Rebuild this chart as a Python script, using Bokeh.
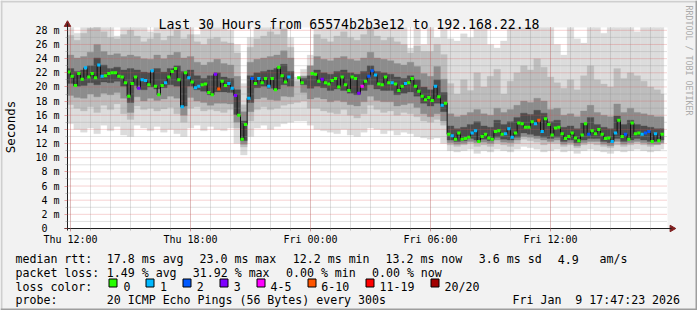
import math
from bokeh.plotting import figure
from bokeh.models import Range1d, FixedTicker, Label, ColumnDataSource
from bokeh.embed import file_html
from bokeh.resources import INLINE

nan = float("nan")

# ---------------- data ----------------
# median RTT per 10-minute step, in ms, starting Thu 11:50
median_ms = [
    22.1, 21.5, 20.2, 21.9, 21.1, 22.7, 21.4, 21.9, 21.3, 23.1,
    21.5, 21.6, 21.9, 22.0, 22.0, 21.5, 21.4, 20.6, 18.7, 20.5,
    21.4, 19.8, 21.0, 20.9, 20.3, 22.3, 20.1, 18.9, 20.2, 20.6,
    21.4, 22.2, 22.6, 21.0, 17.2, 22.0, 21.3, 20.7, 19.9, 20.1,
    20.3, 20.4, 19.2, 18.9, 21.8, 19.7, 20.8, 20.2, 20.5, 19.8,
    18.8, 16.0, 12.6, 14.7, 18.4, 21.2, 20.5, 21.2, 20.6, 21.2,
    20.1, 21.2, 19.6, 22.8, 21.6, 20.7, 21.4, nan, nan, 21.3,
    20.6, nan, nan, 21.9, 21.8, 20.8, 21.1, 20.6, 20.4, 20.9,
    21.2, 20.0, 21.4, 20.3, 19.5, 21.4, 21.2, 19.1, 20.1, 20.8,
    21.5, 22.3, 21.7, 20.4, 20.3, 21.4, 20.6, 20.6, 20.4, 19.5,
    20.1, 20.5, 20.6, 21.2, 20.1, 19.4, 18.7, 18.2, 18.5, 18.1,
    20.1, 18.6, 17.4, 17.7, 13.3, 13.1, 12.6, 13.5, 12.6, 12.7,
    12.9, 13.5, 13.8, 12.3, 13.0, 13.3, 12.8, 12.6, 13.7, 13.8,
    13.3, 13.4, 14.1, 12.9, 13.5, 14.9, 14.8, 14.3, 14.3, 15.1,
    14.8, 15.3, 13.7, 15.5, 14.7, 13.2, 14.2, 14.3, 13.4, 12.7,
    13.0, 13.5, 12.8, 12.4, 13.2, 14.8, 13.3, 13.8, 13.4, 14.0,
    13.3, 12.7, 12.8, 12.3, 13.5, 15.3, 13.0, 13.3, 12.6, 14.9,
    13.4, 13.5, 13.3, 13.5, 13.7, 12.3, 13.4, 12.4, 13.3,
]
# loss bucket per step (index into loss_labels)
loss_bucket = [
    0, 0, 0, 0, 0, 1, 0, 0, 0, 1,
    1, 0, 0, 0, 0, 0, 0, 0, 0, 0,
    0, 3, 1, 1, 0, 1, 0, 0, 0, 1,
    0, 0, 0, 0, 1, 0, 1, 0, 1, 1,
    0, 0, 0, 0, 3, 5, 0, 0, 1, 1,
    3, 0, 0, 0, 1, 2, 0, 1, 0, 0,
    1, 0, 0, 0, 0, 0, 1, 0, 0, 0,
    0, 0, 0, 0, 0, 0, 3, 0, 0, 0,
    0, 0, 0, 0, 0, 0, 0, 3, 4, 0,
    2, 2, 1, 0, 0, 0, 0, 1, 0, 0,
    0, 1, 0, 0, 0, 0, 0, 0, 0, 0,
    1, 0, 1, 0, 0, 1, 0, 0, 0, 0,
    0, 1, 1, 0, 0, 0, 0, 0, 0, 0,
    0, 1, 1, 1, 0, 0, 0, 0, 0, 0,
    1, 5, 1, 0, 0, 0, 0, 0, 0, 0,
    0, 0, 0, 0, 0, 0, 2, 0, 0, 0,
    0, 0, 0, 1, 1, 0, 0, 2, 0, 0,
    0, 0, 1, 2, 2, 0, 1, 0, 0,
]
# smoke (spread of the 20 pings) per 20-minute step, in ms, four nested bands
smoke_min = [
    14.8, 14.0, 13.6, 14.2, 13.4, 14.6, 13.8, 14.4, 13.2, 13.0,
    14.6, 14.2, 13.8, 14.4, 13.6, 14.0, 13.4, 13.0, 14.2, 14.6,
    13.8, 14.4, 14.0, 13.8, 14.2, 12.0, 10.4, 13.0, 14.2, 14.6,
    14.0, 14.4, 14.8, 15.0, 15.2, 15.2, 14.6, 14.0, 13.8, 13.6,
    13.4, 14.0, 13.2, 13.0, 13.6, 14.2, 14.0, 13.4, 13.8, 13.2,
    13.6, 13.4, 13.0, 12.8, 12.6, 12.8, 12.0, 11.0, 10.8, 11.0,
    11.2, 10.6, 11.0, 10.8, 11.2, 11.0, 10.8, 11.2, 11.6, 11.4,
    11.2, 10.8, 11.0, 11.2, 10.8, 11.0, 10.6, 11.0, 11.2, 11.0,
    10.8, 10.6, 11.0, 10.8, 11.0, 11.2, 11.0, 10.8, 11.0, 11.2,
]
smoke_max = [
    28.4, 27.6, 28.4, 28.4, 28.4, 28.4, 28.4, 27.2, 28.4, 28.4,
    28.4, 28.4, 27.8, 28.4, 28.4, 28.4, 28.4, 28.4, 28.4, 27.4,
    28.4, 28.4, 28.4, 28.4, 28.0, 26.0, 20.5, 27.0, 28.4, 28.4,
    28.4, 28.4, 28.4, 27.0, 21.4, 22.5, 24.5, 28.4, 28.4, 28.4,
    28.4, 28.4, 28.4, 28.4, 28.4, 28.4, 28.4, 28.4, 28.4, 28.4,
    28.4, 25.5, 28.4, 26.0, 28.4, 27.0, 28.4, 26.8, 26.5, 27.5,
    27.0, 28.4, 28.4, 26.0, 25.5, 26.5, 28.4, 28.4, 28.4, 28.4,
    28.4, 28.4, 28.4, 26.0, 24.5, 28.4, 26.8, 26.2, 28.4, 28.4,
    27.6, 28.4, 28.4, 28.4, 28.4, 27.8, 28.4, 28.4, 28.4, 28.4,
]
smoke_p15 = [
    17.5, 17.0, 16.6, 17.2, 16.4, 17.4, 16.8, 17.6, 16.2, 15.4,
    17.3, 16.8, 17.0, 16.6, 16.9, 17.1, 16.2, 15.0, 17.0, 17.2,
    16.6, 16.8, 16.6, 16.4, 16.8, 14.2, 11.5, 15.2, 16.8, 17.2,
    16.8, 17.0, 17.4, 17.6, 17.8, 18.0, 17.0, 17.0, 16.6, 16.4,
    16.2, 16.8, 16.0, 15.6, 16.2, 17.4, 16.8, 16.4, 16.6, 16.0,
    16.4, 16.2, 15.8, 15.2, 15.0, 15.4, 14.6, 11.8, 11.6, 11.8,
    12.0, 11.6, 11.8, 11.6, 12.0, 11.8, 11.6, 12.0, 12.6, 12.4,
    12.2, 11.8, 12.0, 12.0, 11.6, 11.8, 11.4, 11.8, 12.0, 11.8,
    11.6, 11.4, 11.8, 11.6, 11.8, 12.0, 11.8, 11.6, 11.8, 12.0,
]
smoke_p85 = [
    27.3, 26.6, 27.6, 28.3, 28.4, 27.8, 27.0, 26.8, 27.4, 28.0,
    27.2, 26.4, 26.8, 27.6, 26.6, 27.2, 28.0, 26.8, 27.4, 26.4,
    26.0, 26.8, 27.0, 26.4, 26.2, 24.8, 17.5, 25.6, 26.8, 27.2,
    27.8, 27.4, 28.2, 25.6, 20.8, 21.6, 22.8, 27.4, 26.8, 26.4,
    27.2, 27.8, 27.0, 26.6, 27.4, 28.4, 27.2, 26.6, 27.0, 26.4,
    26.0, 24.8, 25.8, 25.0, 25.0, 26.0, 24.6, 20.5, 19.0, 21.0,
    19.5, 22.0, 20.0, 21.5, 22.5, 19.0, 20.8, 22.0, 23.0, 22.4,
    24.0, 22.8, 21.4, 20.6, 19.8, 21.0, 19.6, 21.6, 23.0, 21.0,
    20.4, 20.0, 22.6, 21.2, 22.0, 21.6, 20.8, 20.0, 19.6, 19.0,
]
smoke_p30 = [
    18.8, 18.5, 18.4, 19.0, 18.6, 19.1, 18.9, 19.2, 18.4, 16.4,
    18.6, 18.0, 18.4, 18.1, 18.3, 18.7, 18.4, 16.0, 18.5, 18.0,
    17.8, 17.4, 17.7, 17.7, 17.6, 15.0, 11.9, 16.5, 18.3, 18.5,
    18.2, 18.1, 18.7, 18.6, nan, 19.2, 18.3, 18.5, 18.3, 17.9,
    18.1, 17.9, 17.5, 17.3, 17.9, 18.7, 18.1, 17.9, 17.9, 17.3,
    17.5, 17.7, 17.1, 16.2, 15.8, 16.2, 15.2, 12.1, 11.9, 12.0,
    12.3, 12.1, 12.2, 12.0, 12.5, 12.2, 12.1, 12.5, 13.0, 12.9,
    12.7, 12.5, 12.3, 12.5, 11.9, 12.1, 11.7, 12.1, 12.3, 12.3,
    11.9, 11.7, 12.3, 11.9, 12.1, 12.3, 12.1, 11.9, 11.9, 12.1,
]
smoke_p70 = [
    24.5, 24.1, 24.3, 24.9, 26.0, 25.0, 24.5, 24.7, 24.3, 24.5,
    24.3, 24.0, 23.9, 24.5, 24.0, 24.5, 24.9, 24.1, 24.3, 23.5,
    23.1, 23.5, 23.9, 23.3, 23.1, 21.5, 16.5, 23.5, 23.9, 24.1,
    24.3, 24.5, 25.1, 24.1, nan, 21.5, 23.0, 24.3, 23.9, 23.7,
    24.1, 24.3, 23.9, 23.7, 24.1, 24.9, 24.1, 23.9, 23.7, 23.3,
    23.1, 23.5, 22.9, 21.9, 21.5, 22.9, 21.1, 16.2, 15.8, 16.0,
    16.4, 16.8, 16.2, 16.0, 17.0, 16.4, 16.8, 17.4, 18.0, 17.8,
    18.4, 18.0, 16.8, 17.0, 16.0, 16.2, 15.8, 16.6, 17.4, 16.4,
    16.0, 15.8, 17.6, 16.4, 17.0, 16.4, 16.2, 16.0, 15.8, 15.8,
]
smoke_p40 = [
    20.5, 20.1, 20.2, 20.6, 20.3, 20.7, 20.6, 20.8, 20.1, 17.8,
    20.2, 19.6, 20.0, 19.7, 19.9, 20.3, 20.1, 17.3, 20.1, 19.6,
    19.4, 18.9, 19.3, 19.3, 19.2, 16.1, 12.4, 17.8, 19.9, 20.1,
    19.8, 19.7, 20.3, 20.1, nan, 20.3, 19.8, 20.1, 19.9, 19.5,
    19.7, 19.5, 19.1, 18.9, 19.5, 20.3, 19.7, 19.5, 19.5, 18.9,
    19.1, 19.3, 18.7, 17.7, 17.3, 17.7, 16.5, 12.5, 12.3, 12.4,
    12.7, 12.5, 12.6, 12.4, 12.9, 12.6, 12.5, 12.9, 13.5, 13.3,
    13.1, 12.9, 12.7, 12.9, 12.3, 12.5, 12.1, 12.5, 12.7, 12.7,
    12.3, 12.1, 12.7, 12.3, 12.5, 12.7, 12.5, 12.3, 12.3, 12.5,
]
smoke_p60 = [
    22.6, 22.2, 22.4, 23.0, 24.1, 23.1, 22.6, 22.8, 22.4, 22.6,
    22.4, 22.1, 22.0, 22.6, 22.1, 22.6, 23.0, 22.2, 22.4, 21.6,
    21.2, 21.6, 22.0, 21.4, 21.2, 19.6, 15.2, 21.6, 22.0, 22.2,
    22.4, 22.6, 23.2, 22.2, nan, 21.2, 21.6, 22.4, 22.0, 21.8,
    22.2, 22.4, 22.0, 21.8, 22.2, 23.0, 22.2, 22.0, 21.8, 21.4,
    21.2, 21.6, 21.0, 20.0, 19.6, 21.0, 19.2, 14.5, 14.1, 14.3,
    14.7, 15.1, 14.5, 14.3, 15.3, 14.7, 15.1, 15.7, 16.3, 16.1,
    16.7, 16.3, 15.1, 15.3, 14.3, 14.5, 14.1, 14.9, 15.7, 14.7,
    14.3, 14.1, 15.9, 14.7, 15.3, 14.7, 14.5, 14.3, 14.1, 14.1,
]

loss_labels = ["0", "1", "2", "3", "4-5", "6-10", "11-19", "20/20"]
loss_colors = ["#26ff00", "#00b8ff", "#0059ff", "#7e00ff", "#ff00ff", "#ff5500", "#ff0000", "#a10000"]

y_ticks = list(range(0, 29, 2))
y_minor = list(range(1, 28, 2))
x_ticks = [12, 18, 24, 30, 36]
x_minor = list(range(12, 42))
x_tick_labels = ["Thu 12:00", "Thu 18:00", "Fri 00:00", "Fri 06:00", "Fri 12:00"]

title_text = "Last 30 Hours from 65574b2b3e12 to 192.168.22.18"
legend_rtt = ["median rtt:", "17.8 ms avg", "23.0 ms max", "12.2 ms min", "13.2 ms now",
              "3.6 ms sd", "4.9", "am/s"]
legend_loss = ["packet loss:", "1.49 % avg", "31.92 % max", "0.00 % min", "0.00 % now"]
legend_probe = ["probe:", "20 ICMP Echo Pings (56 Bytes) every 300s", "Fri Jan \u00a09 17:47:23 2026"]

START_H = 11 + 50 / 60      # first step: Thu 11:50 (hours since Thu 00:00)
STEP_H = 10 / 60
SMOKE_STEP_H = 20 / 60
T_LEFT, T_RIGHT = 11.85, 41.85   # time span of the graph canvas
V_TOP = 28.4                     # top of the graph canvas (ms)

# ---------------- layout (pixels) ----------------
W, H = 697, 310
FL, FB, FT = 67, 228, 27
PX_H = 20.0                       # pixels per hour
PX_MS = (FB - FT) / V_TOP         # pixels per ms
X0 = T_LEFT - FL / PX_H
X1 = X0 + W / PX_H
Y1 = FB / PX_MS
Y0 = Y1 - H / PX_MS
MONO = "DejaVu Sans Mono"
BACK = "#f2f2f2"
MGRID = "rgba(222,79,79,0.5)"
GRID = "rgba(143,143,143,0.55)"
ARROW = "#801f1f"
AXIS = "#1f1f1f"


def hx(cx):
    return X0 + cx / PX_H


def vy(cy):
    return Y1 - cy / PX_MS


p = figure(width=W, height=H, output_backend="svg", toolbar_location=None,
           x_range=Range1d(X0, X1), y_range=Range1d(Y0, Y1),
           min_border=0, min_border_left=0, min_border_right=0,
           min_border_top=0, min_border_bottom=0)
p.title.visible = False
p.border_fill_color = BACK
p.background_fill_color = BACK
p.outline_line_color = None
p.xgrid.visible = False
p.ygrid.visible = False

# white graph canvas
p.quad(left=[T_LEFT], right=[T_RIGHT], bottom=[0], top=[V_TOP], fill_color="white", line_color=None)

# smoke
n_med = len(median_ms)
data_end = START_H + n_med * STEP_H
s_left = [START_H + j * SMOKE_STEP_H for j in range(len(smoke_min))]
s_right = [min(l + SMOKE_STEP_H, data_end) for l in s_left]
for lo, hi, col in ((smoke_min, smoke_max, "#dcdcdc"),
                    (smoke_p15, smoke_p85, "#bdbdbd"),
                    (smoke_p30, smoke_p70, "#8c8c8c"),
                    (smoke_p40, smoke_p60, "#4c4c4c")):
    p.quad(left=s_left, right=s_right, bottom=lo, top=hi, fill_color=col,
           line_color=col, line_width=0.3)

# grid (dotted), drawn over the smoke
p.segment(x0=T_LEFT, x1=T_RIGHT, y0=y_minor, y1=y_minor, line_color=GRID, line_dash="1 1", line_width=1)
p.segment(x0=x_minor, x1=x_minor, y0=0, y1=V_TOP, line_color=GRID, line_dash="1 1", line_width=1)
p.segment(x0=T_LEFT, x1=T_RIGHT, y0=y_ticks[1:], y1=y_ticks[1:], line_color=MGRID, line_dash="1 1", line_width=1)
p.segment(x0=x_ticks, x1=x_ticks, y0=0, y1=V_TOP, line_color=MGRID, line_dash="1 1", line_width=1)

# median, coloured by loss
m_center = [START_H + (i + 0.5) * STEP_H for i in range(n_med)]
p.step(x=m_center, y=median_ms, mode="center", line_color="#111111", line_width=1)
src = ColumnDataSource(dict(x=m_center, y=median_ms, c=[loss_colors[b] for b in loss_bucket]))
p.rect(x="x", y="y", width=STEP_H, height=3, height_units="screen", source=src,
       fill_color="c", line_color=None)

# axes through the graph origin
xa, ya = p.xaxis[0], p.yaxis[0]
xa.fixed_location = 0
ya.fixed_location = T_LEFT
xa.bounds = (T_LEFT - 0.15, T_RIGHT + 0.2)
ya.bounds = (-0.35, V_TOP + 0.6)
xa.ticker = FixedTicker(ticks=x_ticks, minor_ticks=x_minor)
xa.major_label_overrides = {t: s for t, s in zip(x_ticks, x_tick_labels)}
ya.ticker = FixedTicker(ticks=y_ticks, minor_ticks=y_minor)
ya.major_label_overrides = {t: (f"{t} m" if t else "0\u00a0\u00a0") for t in y_ticks}
for ax in (xa, ya):
    ax.axis_line_color = AXIS
    ax.major_tick_line_color = MGRID
    ax.minor_tick_line_color = GRID
    ax.major_tick_in = 0
    ax.minor_tick_in = 0
    ax.major_tick_out = 3
    ax.minor_tick_out = 2
    ax.major_label_text_font = MONO
    ax.major_label_text_font_size = "10px"
    ax.major_label_text_color = "black"
xa.major_label_standoff = 2
ya.major_label_standoff = 5
ya.axis_label = "Seconds"
ya.axis_label_text_font = MONO
ya.axis_label_text_font_size = "12.5px"
ya.axis_label_text_font_style = "normal"
ya.axis_label_text_color = "black"
ya.axis_label_standoff = 14

# axis arrows
p.scatter(x=[hx(671.5)], y=[0], marker="triangle", angle=-math.pi / 2, size=6.5,
          fill_color=ARROW, line_color=ARROW)
p.scatter(x=[T_LEFT], y=[vy(24)], marker="triangle", angle=0, size=6.5,
          fill_color=ARROW, line_color=ARROW)


def text(t, cx, cy, size="11.6px", color="black", align="left", baseline="alphabetic", angle=0.0):
    p.add_layout(Label(x=cx, y=H - cy, x_units="screen", y_units="screen", text=t,
                       text_font=MONO, text_font_size=size, text_color=color,
                       text_align=align, text_baseline=baseline, angle=angle))


def box(cx0, cy0, cx1, cy1, fill, line=None):
    p.quad(left=[hx(cx0)], right=[hx(cx1)], top=[vy(cy0)], bottom=[vy(cy1)],
           fill_color=fill, line_color=line, line_width=1)


# title and watermark
text(title_text, 348.5, 24, size="13.2px", align="center")
text("RRDTOOL / TOBI OETIKER", 688, 5, size="8.3px", color="#ababab", align="left",
     baseline="middle", angle=-math.pi / 2)

# legend
for t, x in zip(legend_rtt, [15, 106.3, 199, 292.3, 385, 478.3, 557.3, 599]):
    text(t, x, 258.6)
for t, x in zip(legend_loss, [15, 106.3, 192.3, 285.5, 371.5]):
    text(t, x, 272.4)
text("loss color:", 15, 286.2)
box_x = [108.5, 145.5, 182.5, 219.5, 256.5, 307.5, 365.5, 430.5]
lab_x = [123, 159.5, 196.3, 233.3, 270, 320.7, 379, 444]
for lbl, col, bx, lx in zip(loss_labels, loss_colors, box_x, lab_x):
    box(bx, 278.5, bx + 8, 286.5, col, "black")
    text(lbl, lx, 286.2)
for t, x in zip(legend_probe, [15, 106.3, 512]):
    text(t, x, 299.9)

# 3d border of the image
box(0, 0, W, 2, "#cfcfcf")
box(0, 0, 2, H, "#cfcfcf")
box(0, H - 2, W, H, "#9e9e9e")
box(W - 2, 0, W, H, "#9e9e9e")

open("out.html", "w").write(file_html(p, INLINE))
